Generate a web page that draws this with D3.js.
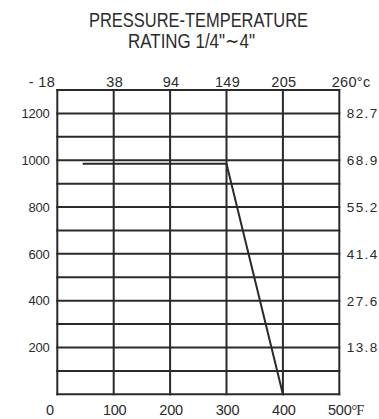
<!DOCTYPE html>
<html>
<head>
<meta charset="utf-8">
<script src="https://cdn.jsdelivr.net/npm/d3@7"></script>
<style>
  html, body { margin: 0; padding: 0; background: #fff; }
  svg { display: block; }
  text { font-family: "Liberation Sans", Arial, sans-serif; fill: #2b2b2b; }
</style>
</head>
<body>
<svg id="chart" width="379" height="419"></svg>
<script>
// Pressure-temperature rating curve
const tempF = [45, 300, 400];
const pressurePsi = [985, 985, 0];

// Axis ticks and labels
const fahrenheitTicks = [0, 100, 200, 300, 400, 500];
const celsiusLabels = ["- 18", "38", "94", "149", "205", "260"];
const psiTicks = [200, 400, 600, 800, 1000, 1200];
const barLabels = ["13.8", "27.6", "41.4", "55.2", "68.9", "82.7"];
const gridF = d3.range(0, 501, 100);
const gridPsi = d3.range(0, 1301, 100);

const svg = d3.select("#chart");
const x = d3.scaleLinear().domain([0, 500]).range([57.3, 339.3]);
const y = d3.scaleLinear().domain([0, 1300]).range([394.3, 90]);
const ink = "#2a2a2a";

// Title
const title = svg.append("g").attr("font-size", 21);
title.append("text").attr("x", 198.5).attr("y", 27)
  .attr("text-anchor", "middle")
  .attr("textLength", 219).attr("lengthAdjust", "spacingAndGlyphs")
  .text("PRESSURE-TEMPERATURE");
title.append("text").attr("x", 191.5).attr("y", 48.3)
  .attr("text-anchor", "middle")
  .attr("textLength", 127).attr("lengthAdjust", "spacingAndGlyphs")
  .text("RATING 1/4\"\u223C4\"");

// Grid
const grid = svg.append("g").attr("stroke", ink).attr("stroke-width", 2).attr("fill", "none");
grid.selectAll("line.h").data(gridPsi).join("line").attr("class", "h")
  .attr("x1", x(0) - 1).attr("x2", x(500) + 1)
  .attr("y1", d => y(d)).attr("y2", d => y(d));
grid.selectAll("line.v").data(gridF).join("line").attr("class", "v")
  .attr("y1", y(0) + 1).attr("y2", y(1300) - 1)
  .attr("x1", d => x(d)).attr("x2", d => x(d));

// Rating curve
const ratingLine = d3.line().x((d, i) => x(tempF[i])).y((d, i) => y(pressurePsi[i]));
svg.append("path").datum(tempF)
  .attr("d", ratingLine)
  .attr("fill", "none").attr("stroke", ink).attr("stroke-width", 2);

// Left axis: psi
svg.append("g").attr("font-size", 13).attr("letter-spacing", -0.2)
  .selectAll("text").data(psiTicks).join("text")
  .attr("x", 49.5).attr("y", d => y(d)).attr("dy", "0.36em")
  .attr("text-anchor", "end").text(d => d);

// Right axis: bar
svg.append("g").attr("font-size", 13.5).attr("letter-spacing", 1.4)
  .selectAll("text").data(psiTicks).join("text")
  .attr("x", x(500) + 7.5).attr("y", d => y(d)).attr("dy", "0.36em")
  .text((d, i) => barLabels[i]);

// Top axis: °C
const topAxis = svg.append("g").attr("font-size", 14.5).attr("letter-spacing", 0.3);
topAxis.selectAll("text").data(fahrenheitTicks).join("text")
  .attr("x", (d, i) => i === 0 ? 55 : (i === 5 ? 331.7 : x(d) + 1))
  .attr("y", 86.5)
  .attr("text-anchor", (d, i) => i === 0 ? "end" : (i === 5 ? "start" : "middle"))
  .text((d, i) => celsiusLabels[i] + (i === 5 ? "\u00B0c" : ""));

// Bottom axis: °F
const bottomAxis = svg.append("g").attr("font-size", 14.5).attr("letter-spacing", -0.2);
bottomAxis.selectAll("text").data(fahrenheitTicks).join("text")
  .attr("x", (d, i) => i === 0 ? 50 : (i === 5 ? 328 : x(d) + 1))
  .attr("y", 414.5)
  .attr("text-anchor", (d, i) => i === 5 ? "start" : "middle")
  .each(function(d, i) {
    const t = d3.select(this);
    t.append("tspan").text(d);
    if (i === 5) {
      t.append("tspan").attr("font-family", "'Liberation Serif', serif")
        .attr("letter-spacing", -1.2).text("\u00B0F");
    }
  });
</script>
</body>
</html>
